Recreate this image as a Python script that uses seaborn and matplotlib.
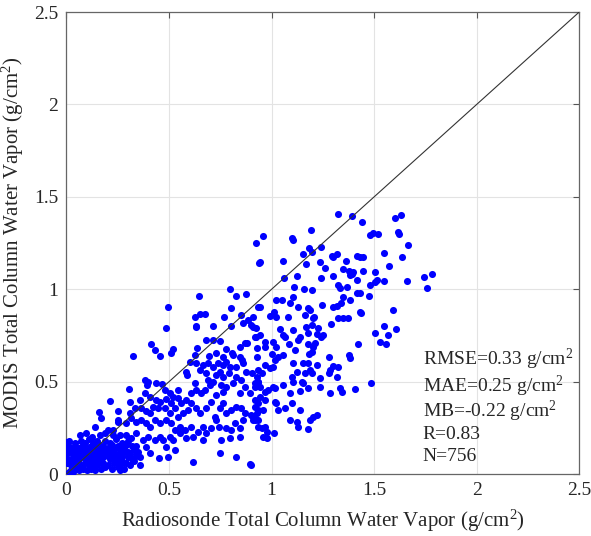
import numpy as np
import pandas as pd
import matplotlib
matplotlib.use("Agg")
import matplotlib.pyplot as plt
import seaborn as sns

# ---- data: (Radiosonde TCWV, MODIS TCWV) in g/cm^2 ----
pts_corner = [
    (0.01,0.01),(0.02,0.02),(0.03,0.01),(0.04,0.03),(0.06,0.02),(0.08,0.03),(0.10,0.02),(0.12,0.03),
    (0.14,0.02),(0.17,0.03),(0.19,0.04),(0.22,0.03),(0.25,0.04),(0.28,0.03),(0.05,0.04),(0.02,0.05),
    (0.01,0.06),(0.03,0.07),(0.05,0.06),(0.07,0.05),(0.09,0.06),(0.11,0.05),(0.13,0.06),(0.15,0.05),
    (0.16,0.07),(0.18,0.06),(0.20,0.05),(0.23,0.06),(0.26,0.05),(0.29,0.06),(0.31,0.05),(0.33,0.07),
    (0.00,0.09),(0.02,0.08),(0.04,0.09),(0.06,0.08),(0.08,0.09),(0.10,0.08),(0.12,0.09),(0.14,0.08),
    (0.16,0.10),(0.18,0.09),(0.21,0.08),(0.23,0.09),(0.25,0.08),(0.27,0.10),(0.30,0.09),(0.32,0.08),
    (0.34,0.10),(0.01,0.12),(0.03,0.11),(0.05,0.12),(0.07,0.11),(0.09,0.12),(0.11,0.11),(0.13,0.12),
    (0.15,0.11),(0.17,0.13),(0.19,0.11),(0.21,0.12),(0.24,0.11),(0.26,0.13),(0.28,0.12),(0.31,0.11),
    (0.33,0.13),(0.00,0.15),(0.02,0.14),(0.04,0.15),(0.06,0.14),(0.08,0.16),(0.10,0.14),(0.12,0.15),
    (0.14,0.14),(0.16,0.16),(0.18,0.15),(0.20,0.14),(0.22,0.16),(0.25,0.15),(0.27,0.14),(0.29,0.16),
    (0.32,0.15),(0.01,0.18),(0.04,0.17),(0.07,0.18),(0.09,0.17),(0.11,0.19),(0.13,0.17),(0.15,0.18),
    (0.19,0.18),(0.21,0.17),(0.24,0.19),(0.27,0.17),(0.30,0.18),(0.05,0.10),(0.07,0.13),(0.09,0.10),
    (0.11,0.07),(0.13,0.10),(0.15,0.13),(0.17,0.08),(0.19,0.13),(0.20,0.10),(0.22,0.12),(0.24,0.07),
    (0.26,0.10),(0.28,0.14),(0.30,0.12),(0.03,0.03),(0.06,0.11),(0.12,0.13),(0.18,0.11),(0.23,0.14),
    (0.27,0.07),(0.35,0.12),(0.36,0.09),(0.34,0.15),(0.12,0.05),(0.04,0.13),(0.00,0.175),(0.00,0.14),
    (0.253,0.293),(0.008,0.166),(0.008,0.121),(0.003,0.058),(0.122,0.031),(0.162,0.094),(0.260,0.022),
    (0.357,0.049),
]

pts_low = [
    (0.925,1.249),(0.937,1.141),(0.799,1.000),(0.646,0.966),(0.825,0.966),(0.877,0.973),(0.495,0.903),
    (0.935,0.903),(0.804,0.897),(0.625,0.848),(0.649,0.865),(0.674,0.865),(0.768,0.852),(0.852,0.861),
    (0.909,0.848),(0.885,0.834),(0.633,0.803),(0.630,0.798),(0.714,0.803),(0.800,0.803),(0.862,0.816),
    (0.901,0.807),(0.925,0.789),(0.484,0.792),(0.682,0.726),(0.714,0.726),(0.750,0.722),(0.925,0.744),
    (0.870,0.711),(0.414,0.702),(0.430,0.671),(0.519,0.675),(0.511,0.653),(0.458,0.639),(0.325,0.641),
    (0.636,0.682),(0.779,0.675),(0.808,0.657),(0.844,0.690),(0.880,0.708),(0.695,0.639),(0.731,0.653),
    (0.763,0.635),(0.812,0.644),(0.854,0.617),(0.625,0.643),(0.601,0.608),(0.633,0.599),(0.666,0.590),
    (0.690,0.599),(0.714,0.581),(0.739,0.599),(0.763,0.590),(0.779,0.608),(0.795,0.581),(0.828,0.581),
    (0.844,0.635),(0.860,0.599),(0.584,0.554),(0.589,0.536),(0.649,0.563),(0.682,0.545),(0.690,0.509),
    (0.727,0.536),(0.747,0.554),(0.763,0.527),(0.792,0.545),(0.828,0.527),(0.852,0.509),(0.877,0.554),
    (0.906,0.545),(0.933,0.563),(0.381,0.509),(0.398,0.500),(0.393,0.482),(0.438,0.491),(0.466,0.486),
    (0.305,0.460),(0.482,0.455),(0.503,0.437),(0.544,0.455),(0.519,0.419),(0.545,0.410),(0.560,0.383),
    (0.584,0.401),(0.609,0.437),(0.625,0.491),(0.633,0.455),(0.657,0.437),(0.674,0.455),(0.698,0.482),
    (0.714,0.500),(0.731,0.428),(0.755,0.482),(0.763,0.446),(0.779,0.473),(0.812,0.491),(0.844,0.437),
    (0.869,0.473),(0.893,0.437),(0.917,0.473),(0.933,0.500),(0.211,0.397),(0.312,0.388),(0.357,0.401),
    (0.381,0.437),(0.406,0.419),(0.438,0.401),(0.455,0.392),(0.484,0.404),(0.508,0.383),(0.159,0.334),
    (0.166,0.301),(0.252,0.341),(0.308,0.329),(0.333,0.356),(0.365,0.356),(0.390,0.343),(0.406,0.329),
    (0.422,0.365),(0.446,0.356),(0.479,0.356),(0.503,0.329),(0.528,0.356),(0.544,0.310),(0.568,0.329),
    (0.593,0.347),(0.609,0.383),(0.633,0.356),(0.649,0.329),(0.682,0.356),(0.706,0.392),(0.722,0.310),
    (0.747,0.356),(0.763,0.383),(0.779,0.329),(0.804,0.347),(0.828,0.365),(0.852,0.356),(0.869,0.329),
    (0.901,0.319),(0.917,0.301),(0.933,0.347),(0.138,0.256),(0.203,0.238),(0.227,0.238),(0.252,0.283),
    (0.292,0.274),(0.317,0.301),(0.341,0.283),(0.365,0.292),(0.390,0.274),(0.409,0.256),(0.430,0.292),
    (0.455,0.274),(0.487,0.292),(0.511,0.274),(0.528,0.238),(0.552,0.256),(0.576,0.238),(0.609,0.256),
    (0.641,0.229),(0.666,0.256),(0.706,0.247),(0.731,0.292),(0.744,0.256),(0.779,0.247),(0.804,0.238),
    (0.820,0.274),(0.844,0.247),(0.860,0.292),(0.909,0.292),(0.933,0.256),(0.065,0.211),(0.097,0.220),
    (0.122,0.202),(0.162,0.211),(0.187,0.220),(0.227,0.211),(0.260,0.211),(0.292,0.211),(0.317,0.193),
    (0.341,0.220),(0.373,0.184),(0.398,0.202),(0.430,0.184),(0.455,0.202),(0.471,0.184),(0.503,0.202),
    (0.519,0.184),(0.552,0.220),(0.584,0.193),(0.617,0.202),(0.666,0.184),(0.682,0.220),(0.755,0.184),
    (0.795,0.193),(0.844,0.199),(0.386,0.148),(0.406,0.112),(0.450,0.085),(0.487,0.148),(0.495,0.094),
    (0.528,0.130),(0.617,0.067),(0.747,0.112),(0.828,0.094),(0.893,0.052),
]

pts_high = [
    (1.322,1.406),(1.394,1.399),(1.441,1.366),(1.603,1.384),(1.632,1.403),(0.956,1.289),(1.098,1.276),
    (1.103,1.267),(1.192,1.321),(1.480,1.294),(1.493,1.307),(1.521,1.300),(1.616,1.312),(1.619,1.300),
    (0.943,1.150),(1.664,1.240),(1.151,1.190),(1.184,1.222),(1.195,1.204),(1.241,1.231),(1.166,1.137),
    (1.057,1.155),(1.293,1.181),(1.321,1.191),(1.301,1.177),(1.363,1.155),(1.419,1.181),(1.432,1.173),
    (1.448,1.173),(1.546,1.195),(1.575,1.126),(1.635,1.173),(1.236,1.150),(1.261,1.114),(1.350,1.108),
    (1.379,1.101),(1.383,1.078),(1.391,1.083),(1.399,1.096),(1.448,1.101),(1.505,1.092),(1.062,1.060),
    (1.122,1.072),(1.239,1.063),(1.301,1.072),(1.415,1.051),(1.480,1.023),(1.505,1.042),(1.516,1.051),
    (1.546,1.047),(1.660,1.047),(1.741,1.065),(1.782,1.083),(1.757,1.009),(1.111,1.011),(1.160,1.002),
    (1.199,0.996),(1.326,1.023),(1.334,1.005),(1.366,1.011),(1.415,0.978),(1.432,0.978),(1.474,0.964),
    (1.021,0.942),(1.052,0.942),(1.090,0.928),(1.106,0.960),(1.127,0.906),(1.179,0.897),(1.187,0.888),
    (1.244,0.915),(1.301,0.906),(1.318,0.910),(1.339,0.924),(1.350,0.960),(1.383,0.942),(1.432,0.879),
    (1.435,0.870),(1.594,0.888),(0.946,0.903),(0.992,0.856),(1.013,0.879),(1.021,0.848),(1.081,0.852),
    (1.163,0.861),(1.208,0.852),(1.204,0.843),(1.288,0.812),(1.326,0.843),(1.350,0.843),(1.375,0.847),
    (0.910,0.798),(0.919,0.744),(1.041,0.785),(1.103,0.780),(1.168,0.798),(1.195,0.807),(1.228,0.792),
    (1.179,0.765),(1.220,0.758),(1.239,0.744),(1.249,0.753),(1.505,0.765),(1.546,0.801),(1.567,0.753),
    (1.529,0.717),(1.559,0.704),(1.607,0.785),(0.943,0.753),(0.967,0.717),(0.967,0.690),(1.008,0.717),
    (1.024,0.690),(1.057,0.753),(1.065,0.744),(1.086,0.704),(1.130,0.726),(1.138,0.744),(1.179,0.702),
    (1.212,0.708),(1.204,0.690),(1.195,0.662),(1.184,0.650),(1.114,0.671),(1.420,0.704),(0.927,0.681),
    (0.927,0.635),(1.000,0.648),(1.016,0.617),(1.033,0.635),(1.008,0.581),(0.992,0.572),(0.967,0.590),
    (0.951,0.545),(0.927,0.527),(1.057,0.644),(1.106,0.603),(1.155,0.599),(1.179,0.599),(1.187,0.563),
    (1.163,0.545),(1.122,0.554),(1.098,0.527),(1.106,0.500),(1.147,0.500),(1.155,0.491),(1.195,0.545),
    (1.220,0.590),(1.236,0.518),(1.278,0.632),(1.285,0.563),(1.301,0.585),(1.326,0.578),(1.278,0.545),
    (1.321,0.527),(1.379,0.643),(1.383,0.626),(1.485,0.491),(0.919,0.491),(0.935,0.500),(0.943,0.473),
    (0.967,0.446),(0.984,0.455),(1.008,0.473),(1.016,0.464),(1.057,0.482),(1.090,0.440),(1.138,0.451),
    (1.179,0.464),(1.236,0.473),(1.285,0.440),(1.334,0.464),(1.342,0.446),(1.407,0.458),(0.943,0.419),
    (0.919,0.401),(0.919,0.365),(0.935,0.383),(0.967,0.401),(1.016,0.392),(1.024,0.383),(0.927,0.329),
    (0.959,0.347),(1.033,0.347),(1.065,0.356),(1.098,0.383),(1.138,0.347),(1.204,0.310),(1.220,0.319),
    (1.187,0.292),(1.090,0.292),(1.122,0.283),(1.130,0.256),(1.179,0.242),(0.910,0.310),(0.919,0.292),
    (0.935,0.292),(0.951,0.247),(0.967,0.256),(0.976,0.229),(0.976,0.193),(1.011,0.220),(0.959,0.202),
    (0.902,0.049),
]

tick_values = [0, 0.5, 1, 1.5, 2, 2.5]
tick_labels = ["0", "0.5", "1", "1.5", "2", "2.5"]
one_to_one = [0, 2.5]
stats_lines = ["RMSE=0.33 g/cm$^2$", "MAE=0.25 g/cm$^2$", "MB=-0.22 g/cm$^2$", "R=0.83", "N=756"]
stats_y = [0.618, 0.473, 0.338, 0.212, 0.094]

# ---- build table ----
all_pts = pts_corner + pts_low + pts_high
df = pd.DataFrame(all_pts, columns=["radiosonde", "modis"])

sns.set_style("white")
plt.rcParams["font.family"] = ["Liberation Serif", "DejaVu Serif"]
plt.rcParams["mathtext.fontset"] = "custom"
plt.rcParams["mathtext.rm"] = "Liberation Serif"
plt.rcParams["mathtext.default"] = "regular"

fig = plt.figure(figsize=(5.91, 5.36), dpi=100)
ax = fig.add_axes([0.1125, 0.1155, 0.8675, 0.8620])

ax.grid(True, color="#e3e3e3", linewidth=0.8, zorder=0)
ax.set_axisbelow(True)

sns.scatterplot(data=df, x="radiosonde", y="modis", ax=ax, color="#0000ff",
                s=26, linewidth=0, zorder=3, legend=False)

ax.plot(one_to_one, one_to_one, color="#333333", linewidth=0.8, zorder=4)

ax.set_xlim(0, 2.5)
ax.set_ylim(0, 2.5)
ax.set_xticks(tick_values)
ax.set_xticklabels(tick_labels)
ax.set_yticks(tick_values)
ax.set_yticklabels(tick_labels)
ax.tick_params(direction="in", length=4, width=0.8, color="#555555",
               labelsize=14, top=True, right=True, pad=6)

for sp in ax.spines.values():
    sp.set_color("#666666")
    sp.set_linewidth(0.9)
    sp.set_visible(True)

ax.set_xlabel("Radiosonde Total Column Water Vapor (g/cm$^2$)", fontsize=15, labelpad=6)
ax.set_ylabel("MODIS Total Column Water Vapor (g/cm$^2$)", fontsize=15, labelpad=6)

for txt, yy in zip(stats_lines, stats_y):
    ax.text(1.737, yy, txt, fontsize=14, va="center", ha="left", zorder=5)

fig.savefig("out.png", dpi=100)
